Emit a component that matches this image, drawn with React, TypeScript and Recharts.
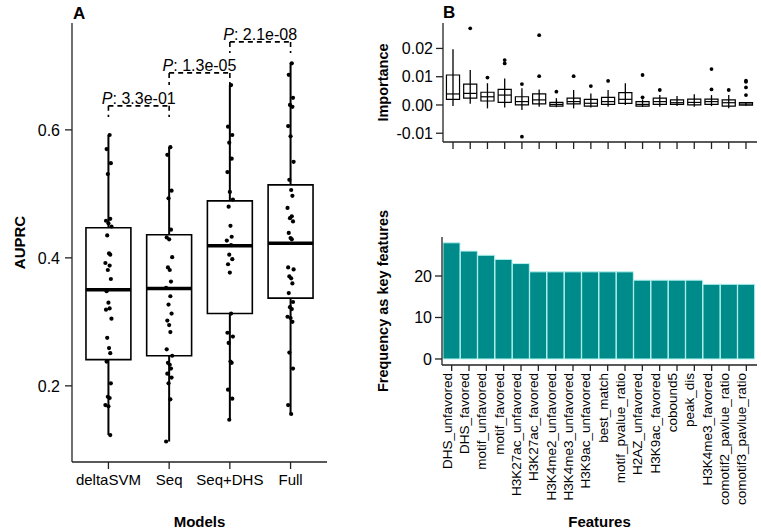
import React from "react";
import {
  ComposedChart,
  BarChart,
  Bar,
  Scatter,
  XAxis,
  YAxis,
  ReferenceArea,
  ReferenceLine,
  ReferenceDot,
} from "recharts";

const FONT = "'Liberation Sans', Arial, Helvetica, sans-serif";

// ---- panel A : AUPRC per model ----
const models = ["deltaSVM", "Seq", "Seq+DHS", "Full"];
const boxQ1 = [0.241, 0.247, 0.313, 0.337];
const boxMedian = [0.35, 0.352, 0.419, 0.423];
const boxQ3 = [0.447, 0.436, 0.489, 0.514];
const whiskerLow = [0.123, 0.113, 0.147, 0.156];
const whiskerHigh = [0.592, 0.573, 0.67, 0.705];

const deltaSvmAuprc = [
  0.592, 0.57, 0.548, 0.531, 0.461, 0.458, 0.454, 0.449, 0.435, 0.407, 0.405,
  0.392, 0.388, 0.381, 0.367, 0.348, 0.33, 0.321, 0.319, 0.305, 0.275, 0.259,
  0.251, 0.238, 0.204, 0.183, 0.181, 0.17, 0.168, 0.123,
];
const seqAuprc = [
  0.573, 0.561, 0.505, 0.493, 0.444, 0.432, 0.429, 0.401, 0.385, 0.381, 0.363,
  0.353, 0.34, 0.327, 0.313, 0.302, 0.295, 0.284, 0.257, 0.247, 0.236, 0.233,
  0.227, 0.219, 0.213, 0.204, 0.179, 0.113,
];
const seqDhsAuprc = [
  0.67, 0.605, 0.592, 0.58, 0.555, 0.534, 0.503, 0.491, 0.48, 0.45, 0.433,
  0.427, 0.42, 0.405, 0.398, 0.39, 0.377, 0.313, 0.283, 0.277, 0.267, 0.238,
  0.236, 0.194, 0.18, 0.147,
];
const fullAuprc = [
  0.704, 0.686, 0.65, 0.639, 0.636, 0.606, 0.59, 0.55, 0.522, 0.506, 0.497,
  0.478, 0.465, 0.462, 0.457, 0.439, 0.431, 0.429, 0.385, 0.382, 0.371, 0.368,
  0.36, 0.345, 0.331, 0.323, 0.32, 0.308, 0.306, 0.3, 0.252, 0.227, 0.17,
  0.156,
];
const auprcByModel = [deltaSvmAuprc, seqAuprc, seqDhsAuprc, fullAuprc];
// small horizontal jitter of the dots (x units)
const jitter = [
  0.02, -0.03, 0.04, -0.01, 0.03, -0.04, 0.0, 0.05, -0.02, 0.01, 0.03, -0.05,
  0.02, -0.01, 0.04, -0.03, 0.0, 0.02, -0.04, 0.05, -0.02, 0.01, 0.03, -0.03,
  0.04, -0.01, 0.02, -0.05, 0.0, 0.03, -0.02, 0.04, -0.04, 0.01,
];

const pairLeft = [1, 2, 3];
const pairRight = [2, 3, 4];
const pValues = ["3.3e-01", "1.3e-05", "2.1e-08"];
const bracketTop = [0.6375, 0.689, 0.7375];
const bracketFoot = [0.62, 0.67, 0.72];

// ---- panel B : feature importance & frequency ----
const features = [
  "DHS_unfavored",
  "DHS_favored",
  "motif_unfavored",
  "motif_favored",
  "H3K27ac_unfavored",
  "H3K27ac_favored",
  "H3K4me2_unfavored",
  "H3K4me3_unfavored",
  "H3K9ac_unfavored",
  "best_match",
  "motif_pvalue_ratio",
  "H2AZ_unfavored",
  "H3K9ac_favored",
  "cobound5",
  "peak_dis",
  "H3K4me3_favored",
  "comotif2_pavlue_ratio",
  "comotif3_pavlue_ratio",
];
const impLow = [-0.0004, 0.0004, -0.0012, -0.0009, -0.0018, -0.0006, -0.0008, -0.0012, -0.0009, -0.0006, 0.0, -0.0006, -0.0006, -0.0004, -0.0006, -0.0004, -0.0012, -0.0003];
const impQ1 = [0.002, 0.0024, 0.0014, 0.0009, 0.0, 0.0004, -0.0004, 0.0004, -0.0004, 0.0002, 0.0006, -0.0004, 0.0002, 0.0002, 0.0, 0.0002, -0.0004, -0.0001];
const impMedian = [0.0039, 0.0041, 0.0029, 0.0035, 0.0012, 0.0018, 0.0002, 0.0012, 0.0006, 0.0012, 0.002, 0.0002, 0.0012, 0.0008, 0.0009, 0.0012, 0.0008, 0.0003];
const impQ3 = [0.0106, 0.0074, 0.0045, 0.0055, 0.0029, 0.0039, 0.0009, 0.0024, 0.002, 0.0027, 0.0044, 0.0012, 0.0024, 0.0018, 0.0021, 0.0021, 0.0018, 0.0008];
const impHigh = [0.0197, 0.0124, 0.0077, 0.0094, 0.0059, 0.0055, 0.0024, 0.0053, 0.0041, 0.0053, 0.0077, 0.002, 0.0035, 0.0032, 0.0038, 0.0035, 0.0035, 0.0009];
const impOutliers = [
  [],
  [0.0271],
  [0.0097],
  [0.0159, 0.0147],
  [0.0074, -0.0112],
  [0.0102, 0.0247],
  [0.0047],
  [0.0102],
  [0.0067],
  [0.0085],
  [],
  [0.0027, 0.0106],
  [0.0053],
  [],
  [],
  [0.0055, 0.0127],
  [0.0053],
  [0.0035, 0.0062, 0.0086, 0.0082],
];
const keyFrequency = [28, 26, 25, 24, 23, 21, 21, 21, 21, 21, 21, 19, 19, 19, 19, 18, 18, 18];

const auprcPoints = auprcByModel.flatMap((vals, g) =>
  vals.map((v, i) => ({ x: g + 1 + jitter[i % jitter.length], y: v }))
);
const outlierPoints = impOutliers.flatMap((vals, i) =>
  vals.map((v) => ({ x: i + 1, y: v }))
);
const freqData = features.map((f, i) => ({ feature: f, count: keyFrequency[i] }));

const tickStyle = { fill: "#000", fontSize: 15, fontFamily: FONT };
const tickStyleB = { fill: "#000", fontSize: 16, fontFamily: FONT };
const axisStroke = { stroke: "#222", strokeWidth: 1.3 };

const Dot = (p: any) => <circle cx={p.cx} cy={p.cy} r={2.1} fill="#000" />;
const SmallDot = (p: any) => <circle cx={p.cx} cy={p.cy} r={1.9} fill="#000" />;

const FeatureTick = (p: any) => (
  <text
    x={p.x}
    y={p.y}
    transform={`rotate(-90 ${p.x} ${p.y})`}
    textAnchor="end"
    fontSize={13.5}
    fontFamily={FONT}
    fill="#000"
  >
    {p.payload.value}
  </text>
);

const PanelA = () => (
  <ComposedChart
    width={340}
    height={531}
    margin={{ top: 23, right: 13, bottom: 0, left: 0 }}
  >
    <XAxis
      type="number"
      dataKey="x"
      domain={[0.4, 4.6]}
      allowDataOverflow
      ticks={[1, 2, 3, 4]}
      tickFormatter={(v: number) => models[v - 1]}
      height={69}
      tickSize={7}
      tickMargin={5}
      tick={tickStyle}
      axisLine={axisStroke}
      tickLine={axisStroke}
      label={{
        value: "Models",
        position: "insideBottom",
        offset: 4,
        style: { fontWeight: "bold", fontSize: 15, fill: "#000", fontFamily: FONT },
      }}
    />
    <YAxis
      type="number"
      dataKey="y"
      domain={[0.081, 0.767]}
      allowDataOverflow
      ticks={[0.2, 0.4, 0.6]}
      tickFormatter={(v: number) => v.toFixed(1)}
      width={72}
      tickSize={7}
      tickMargin={5}
      tick={tickStyleB}
      axisLine={axisStroke}
      tickLine={axisStroke}
      label={{
        value: "AUPRC",
        angle: -90,
        position: "insideLeft",
        offset: 20,
        style: { textAnchor: "middle", fontWeight: "bold", fontSize: 15, fill: "#000", fontFamily: FONT },
      }}
    />
    {models.map((m, i) => (
      <ReferenceArea
        key={"box" + m}
        x1={i + 1 - 0.37}
        x2={i + 1 + 0.37}
        y1={boxQ1[i]}
        y2={boxQ3[i]}
        fill="none"
        stroke="#000"
        strokeWidth={1.6}
      />
    ))}
    {models.map((m, i) => (
      <ReferenceLine
        key={"med" + m}
        segment={[
          { x: i + 1 - 0.37, y: boxMedian[i] },
          { x: i + 1 + 0.37, y: boxMedian[i] },
        ]}
        stroke="#000"
        strokeWidth={3.5}
      />
    ))}
    {models.map((m, i) => (
      <ReferenceLine
        key={"wl" + m}
        segment={[
          { x: i + 1, y: whiskerLow[i] },
          { x: i + 1, y: boxQ1[i] },
        ]}
        stroke="#000"
        strokeWidth={2}
      />
    ))}
    {models.map((m, i) => (
      <ReferenceLine
        key={"wh" + m}
        segment={[
          { x: i + 1, y: boxQ3[i] },
          { x: i + 1, y: whiskerHigh[i] },
        ]}
        stroke="#000"
        strokeWidth={2}
      />
    ))}
    {pValues.map((p, i) => (
      <ReferenceLine
        key={"bh" + i}
        segment={[
          { x: pairLeft[i], y: bracketTop[i] },
          { x: pairRight[i], y: bracketTop[i] },
        ]}
        stroke="#000"
        strokeWidth={1.6}
        strokeDasharray="5 4"
      />
    ))}
    {pValues.map((p, i) => (
      <ReferenceLine
        key={"bl" + i}
        segment={[
          { x: pairLeft[i], y: bracketTop[i] },
          { x: pairLeft[i], y: bracketFoot[i] },
        ]}
        stroke="#000"
        strokeWidth={1.6}
        strokeDasharray="5 4"
      />
    ))}
    {pValues.map((p, i) => (
      <ReferenceLine
        key={"br" + i}
        segment={[
          { x: pairRight[i], y: bracketTop[i] },
          { x: pairRight[i], y: bracketFoot[i] },
        ]}
        stroke="#000"
        strokeWidth={1.6}
        strokeDasharray="5 4"
      />
    ))}
    {pValues.map((p, i) => (
      <ReferenceDot
        key={"pt" + i}
        x={(pairLeft[i] + pairRight[i]) / 2}
        y={bracketTop[i]}
        r={0}
        shape={(s: any) => (
          <text
            x={s.cx}
            y={s.cy - 2}
            textAnchor="middle"
            fontSize={16}
            fontFamily={FONT}
            fill="#000"
          >
            <tspan fontStyle="italic">P</tspan>: {p}
          </text>
        )}
      />
    ))}
    <Scatter data={auprcPoints} shape={Dot} isAnimationActive={false} />
  </ComposedChart>
);

const PanelBTop = () => (
  <ComposedChart
    width={401}
    height={160}
    margin={{ top: 23, right: 4, bottom: 0, left: 0 }}
  >
    <XAxis
      type="number"
      dataKey="x"
      domain={[0.42, 18.64]}
      allowDataOverflow
      ticks={features.map((_, i) => i + 1)}
      tickFormatter={() => ""}
      height={18}
      tickSize={7}
      axisLine={axisStroke}
      tickLine={axisStroke}
    />
    <YAxis
      type="number"
      dataKey="y"
      domain={[-0.0131, 0.029]}
      allowDataOverflow
      ticks={[-0.01, 0, 0.01, 0.02]}
      tickFormatter={(v: number) => v.toFixed(2)}
      width={83}
      tickSize={7}
      tickMargin={3}
      tick={tickStyleB}
      axisLine={axisStroke}
      tickLine={axisStroke}
      label={{
        value: "Importance",
        angle: -90,
        position: "insideLeft",
        offset: 23,
        style: { textAnchor: "middle", fontWeight: "bold", fontSize: 14.5, fill: "#000", fontFamily: FONT },
      }}
    />
    {features.map((f, i) => (
      <ReferenceLine
        key={"iwl" + f}
        segment={[
          { x: i + 1, y: impLow[i] },
          { x: i + 1, y: impHigh[i] },
        ]}
        stroke="#000"
        strokeWidth={1.3}
      />
    ))}
    {features.map((f, i) => (
      <ReferenceArea
        key={"ibox" + f}
        x1={i + 1 - 0.38}
        x2={i + 1 + 0.38}
        y1={impQ1[i]}
        y2={impQ3[i]}
        fill="#fff"
        fillOpacity={1}
        stroke="#000"
        strokeWidth={1.2}
      />
    ))}
    {features.map((f, i) => (
      <ReferenceLine
        key={"imed" + f}
        segment={[
          { x: i + 1 - 0.38, y: impMedian[i] },
          { x: i + 1 + 0.38, y: impMedian[i] },
        ]}
        stroke="#000"
        strokeWidth={1.2}
      />
    ))}
    <Scatter data={outlierPoints} shape={SmallDot} isAnimationActive={false} />
  </ComposedChart>
);

const PanelBBottom = () => (
  <BarChart
    width={401}
    height={361}
    data={freqData}
    margin={{ top: 67, right: 4, bottom: 0, left: 0 }}
    barCategoryGap={0}
  >
    <XAxis
      dataKey="feature"
      interval={0}
      padding={{ left: 1, right: 2 }}
      height={166}
      tickSize={6}
      tickMargin={2}
      tick={<FeatureTick />}
      axisLine={axisStroke}
      tickLine={axisStroke}
      label={{
        value: "Features",
        position: "insideBottom",
        offset: 4,
        style: { fontWeight: "bold", fontSize: 15, fill: "#000", fontFamily: FONT },
      }}
    />
    <YAxis
      type="number"
      domain={[-1.45, 29.4]}
      allowDataOverflow
      ticks={[0, 10, 20]}
      width={82}
      tickSize={7}
      tickMargin={3}
      tick={tickStyleB}
      axisLine={axisStroke}
      tickLine={axisStroke}
      label={{
        value: "Frequency as key features",
        angle: -90,
        position: "insideLeft",
        offset: 23,
        style: { textAnchor: "middle", fontWeight: "bold", fontSize: 14.5, fill: "#000", fontFamily: FONT },
      }}
    />
    <Bar
      dataKey="count"
      fill="#008b8b"
      stroke="#b4f2ee"
      strokeWidth={1}
      isAnimationActive={false}
    />
  </BarChart>
);

export default function App() {
  return (
    <div
      style={{
        position: "absolute",
        left: 0,
        top: 0,
        width: 761,
        height: 531,
        background: "#fff",
        fontFamily: FONT,
        overflow: "hidden",
      }}
    >
      <div style={{ position: "absolute", left: 0, top: 0 }}>
        <PanelA />
      </div>
      <div style={{ position: "absolute", left: 360, top: 0 }}>
        <PanelBTop />
      </div>
      <div style={{ position: "absolute", left: 360, top: 170 }}>
        <PanelBBottom />
      </div>
      <svg
        width={761}
        height={531}
        style={{ position: "absolute", left: 0, top: 0, pointerEvents: "none" }}
      >
        <text x={73} y={19} fontSize={17} fontWeight="bold" fontFamily={FONT} fill="#000">
          A
        </text>
        <text x={443} y={18} fontSize={17} fontWeight="bold" fontFamily={FONT} fill="#000">
          B
        </text>
      </svg>
    </div>
  );
}
